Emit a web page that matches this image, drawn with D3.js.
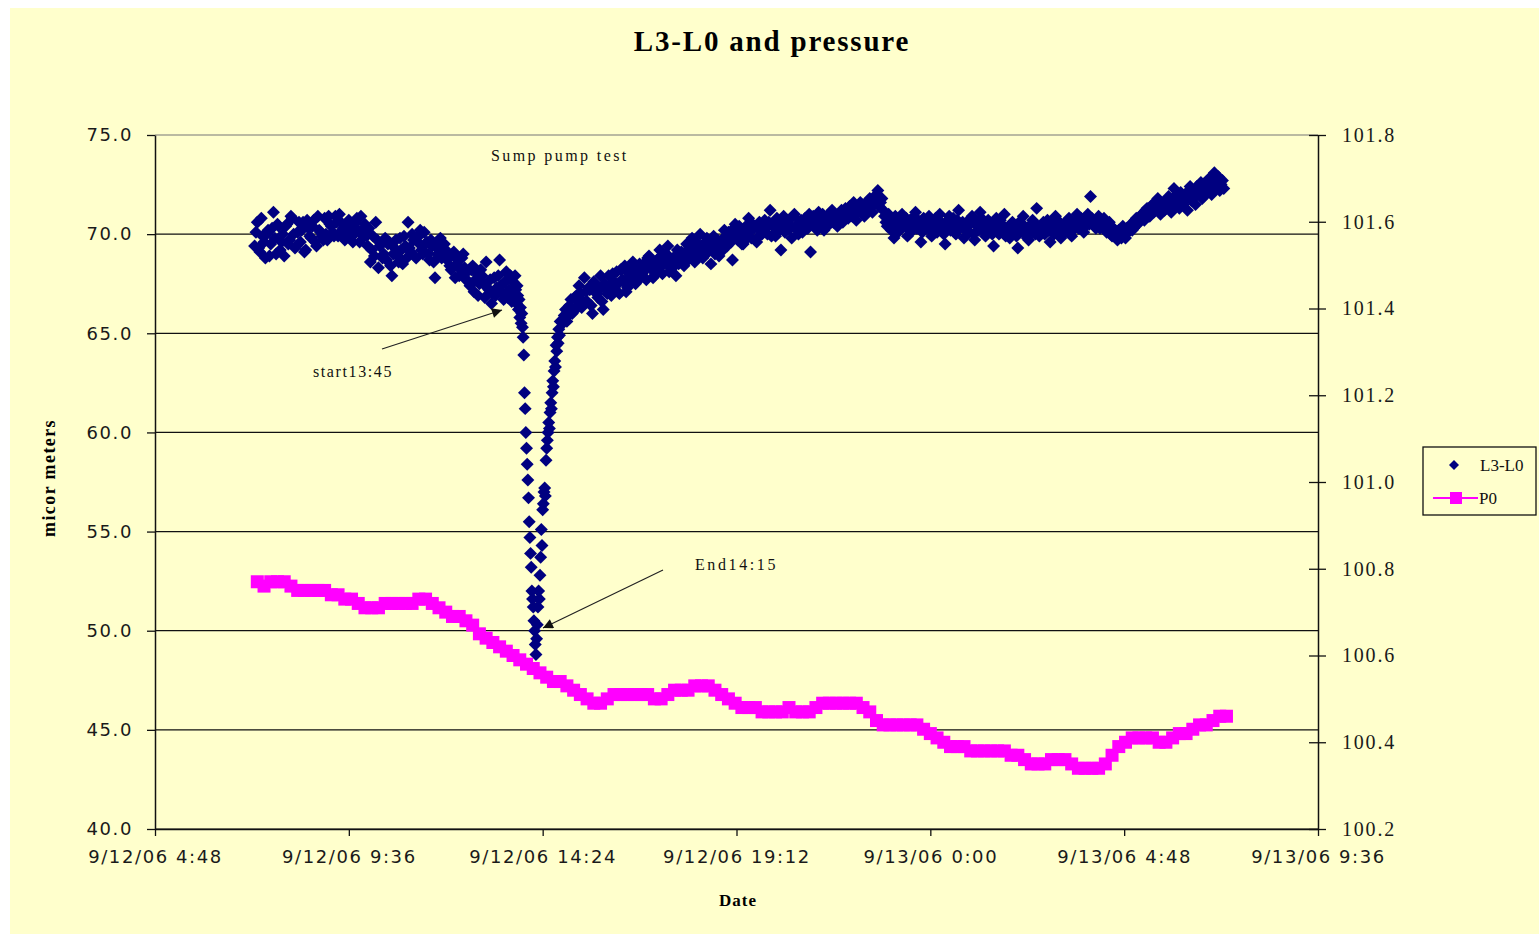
<!DOCTYPE html>
<html>
<head>
<meta charset="utf-8">
<script src="https://cdn.jsdelivr.net/npm/d3@7"></script>
<style>
  body { margin: 0; background: #fff; }
  svg { display: block; }
</style>
</head>
<body>
<svg id="chart"></svg>
<script>
const W = 1539, H = 934

// L3-L0 (micro meters), 4 minute samples before the pump test (even + odd runs)
const l3BeforeStart = '9/12/06 7:16'
const l3BeforeStep = 4
const l3Before = [
  69.4, 70.6, 69.1, 69.9, 68.8, 70.2, 69.5, 71.1, 69.0, 70.4, 69.6,
  68.9, 70.5, 69.7, 70.8, 69.3, 70.1, 69.6, 70.6, 69.2, 70.3, 69.8, 70.7, 69.4, 70.2, 69.9,
  70.8, 69.7, 70.5, 70.1, 70.9, 69.9, 70.6, 70.3, 69.8, 70.7, 70.4, 70.0, 70.8, 69.6, 70.2,
  70.5, 69.4, 68.6, 69.9, 70.6, 68.3, 69.5, 69.0,
  68.7, 69.6, 67.9, 69.3, 68.9, 69.8, 68.5, 69.4,
  70.6, 69.1, 69.7, 68.8, 69.9, 69.2, 70.1,
  69.6, 68.7, 69.4, 67.8, 69.0, 69.8, 68.9, 69.2,
  68.9, 68.2, 69.1, 68.5, 67.9, 68.8, 68.3,
  68.1, 67.4, 68.4, 67.7, 66.9, 68.2, 67.5, 68.6,
  67.2, 66.5, 67.8, 67.3, 68.7, 67.0, 67.6, 66.8, 67.9
]
const l3BeforeBStart = '9/12/06 7:18'
const l3BeforeB = [
  70.1, 69.3, 70.8, 69.6, 70.0, 68.9, 70.3, 69.8, 70.5, 69.2, 70.0,
  70.4, 69.5, 70.9, 70.0, 69.4, 70.6, 70.2, 69.1, 70.7, 69.9, 70.4, 69.6, 70.9, 70.1, 69.7,
  70.0, 70.9, 70.4, 69.9, 70.6, 71.0, 70.2, 69.7, 70.5, 70.1, 69.6, 70.6, 70.2, 70.9, 69.9,
  69.9, 70.3, 69.2, 68.9, 69.7, 69.4, 68.8, 69.8,
  69.5, 68.4, 69.0, 69.7, 68.6, 69.2, 69.9, 68.8,
  69.3, 70.0, 68.9, 69.6, 70.2, 69.0, 69.5,
  69.0, 69.7, 68.6, 69.5, 69.2, 68.8, 69.5, 68.7,
  68.4, 69.0, 67.8, 68.7, 68.2, 69.0, 67.7,
  67.6, 68.2, 67.1, 68.0, 67.5, 67.9, 66.8, 67.3,
  67.7, 67.0, 66.9, 67.9, 67.4, 66.7, 68.1, 67.2, 66.6
]

// 1 minute samples across the pump test
const l3DipStart = '9/12/06 13:40'
const l3DipStep = 1
const l3Dip = [
  67.6, 67.1, 66.8, 67.9, 67.2, 66.5, 67.4, 66.9, 66.2, 66.7, 65.8,
  66.3, 65.5, 66.0, 65.3,
  64.8, 63.9, 62.0, 61.2, 60.0, 59.2, 58.4, 57.6, 56.7, 55.5,
  54.7, 53.9, 53.2, 52.0, 51.6, 51.2, 50.5, 50.0, 49.3, 48.8,
  49.6,
  50.3, 51.2, 52.0, 51.6, 52.8, 53.7, 55.1, 54.3, 56.1, 56.4,
  57.0, 57.2, 56.8, 58.6, 59.2, 59.6, 60.0, 60.5, 60.2, 61.0,
  61.5, 61.2, 62.0, 62.6, 62.3, 63.1, 63.6, 63.3, 64.4, 64.1,
  64.8, 64.5, 65.2, 64.9, 65.6
]

// 4 minute samples after the test until next morning (even + odd runs)
const l3AfterStart = '9/12/06 14:54'
const l3AfterStep = 4
const l3After = [
  65.5, 66.2, 65.9, 66.7, 66.1, 66.9, 67.4, 66.3, 67.8, 66.6, 67.2, 66.0, 67.5, 66.8, 67.9,
  66.2, 67.3, 67.9, 66.9, 67.6, 68.1, 67.0, 67.7, 68.4, 67.3, 67.9, 68.6, 67.5, 68.2, 67.8,
  68.5, 67.7, 68.9, 68.2, 67.9, 68.7, 69.2, 68.0, 68.6, 69.4, 68.3, 68.8, 67.9, 68.5, 69.1,
  68.4, 69.5, 68.9, 69.8, 68.6, 69.2, 70.0, 68.8, 69.6, 69.1, 68.5, 69.9, 69.3, 68.9, 69.7,
  70.2, 69.4, 69.9, 68.7, 70.5, 69.7, 70.1, 69.5, 70.4, 70.8, 69.8, 70.3, 69.6, 70.6, 70.0,
  70.7, 70.0, 71.2, 70.4, 69.9, 70.6, 69.2, 70.9, 70.3, 70.5, 69.8, 71.0, 70.2, 70.6, 70.1,
  70.8, 70.3, 69.1, 70.9, 70.4, 71.1, 70.6, 70.2, 70.9, 70.5, 71.2, 70.7, 70.4, 71.0, 70.6,
  71.3, 70.8, 71.1, 71.6, 70.7, 71.2, 71.5, 70.9, 71.4, 71.8, 71.1, 71.9, 72.2, 71.6, 71.2,
  70.6, 71.0, 70.2, 69.8, 70.6, 70.3, 71.0, 70.5, 69.9, 70.7, 70.2, 71.1, 70.4, 69.6, 70.8,
  70.3, 70.9, 69.9, 70.6, 70.1, 71.0, 70.4, 69.5, 70.7, 70.2, 70.8, 70.0, 71.2, 70.5, 69.8,
  70.6, 70.1, 70.9, 69.7, 70.4, 71.1, 70.2, 69.9, 70.7, 70.3, 69.4, 70.8, 70.0, 70.5, 71.0,
  70.3, 69.8, 70.6, 70.1, 69.3, 70.4, 70.9, 70.0, 69.7, 70.5, 70.2, 71.3, 69.9, 70.4, 70.0,
  70.7, 69.6, 70.3, 70.9, 70.1, 69.8, 70.5, 70.2, 70.8, 69.9, 70.6, 71.0, 70.3, 70.7, 70.4,
  71.0, 71.9, 70.6, 70.3, 70.9, 70.5, 70.8, 70.1, 70.6, 69.9, 70.2, 69.7, 70.0, 70.4, 69.8,
  70.1, 70.5, 70.3, 70.8, 70.6, 71.0, 70.7, 71.3, 70.9, 71.5, 71.2, 71.8, 71.0, 71.6, 71.3,
  71.9, 71.1, 72.3, 71.6, 71.3, 72.0, 71.7, 71.2, 72.4, 71.8, 71.5, 72.1, 72.6, 71.9, 72.3,
  72.8, 72.0, 73.1, 72.5, 72.2, 72.7
]
const l3AfterBStart = '9/12/06 14:56'
const l3AfterB = [
  65.9, 65.6, 66.4, 66.0, 66.8, 66.4, 67.0, 66.6, 67.1, 67.3, 66.4, 67.6, 67.0, 67.2, 66.6,
  67.5, 67.0, 67.4, 68.0, 67.2, 67.5, 68.2, 67.6, 67.1, 68.0, 67.7, 68.3, 67.9, 68.5, 68.0,
  68.2, 68.8, 68.4, 67.8, 68.6, 68.3, 68.9, 68.5, 69.0, 68.1, 68.7, 68.4, 69.2, 68.6, 68.9,
  69.1, 68.7, 69.3, 69.0, 69.6, 68.9, 69.4, 69.1, 69.8, 69.3, 69.6, 69.0, 69.7, 69.5, 69.2,
  69.8, 70.1, 69.6, 70.3, 69.9, 70.4, 69.5, 70.0, 69.8, 70.2, 70.5, 69.7, 70.3, 70.0, 70.4,
  70.3, 70.6, 69.9, 70.4, 70.8, 70.2, 70.5, 70.1, 70.7, 70.3, 70.9, 70.4, 70.0, 70.7, 70.5,
  70.6, 71.0, 70.5, 70.8, 70.2, 70.7, 71.0, 70.4, 70.8, 71.1, 70.6, 70.9, 70.5, 71.2, 70.8,
  71.0, 71.4, 70.9, 71.3, 71.1, 71.6, 71.2, 71.0, 71.7, 71.4, 71.5, 72.0, 71.4, 71.8, 70.9,
  70.4, 70.8, 70.5, 70.9, 70.1, 70.6, 70.4, 70.8, 70.2, 70.5, 70.9, 70.3, 70.6, 70.1, 70.5,
  70.6, 70.2, 70.5, 70.8, 70.3, 70.6, 70.0, 70.5, 70.9, 70.4, 70.1, 70.7, 70.3, 70.6, 70.2,
  70.4, 70.7, 70.0, 70.5, 70.2, 70.8, 70.4, 70.1, 70.6, 70.0, 70.5, 70.2, 70.7, 70.3, 69.9,
  70.1, 70.5, 70.3, 69.9, 70.6, 70.2, 70.4, 69.8, 70.3, 70.7, 70.0, 70.4, 70.1, 70.6, 70.3,
  70.2, 70.6, 70.0, 70.4, 70.6, 70.3, 70.1, 70.7, 70.4, 70.2, 70.5, 70.3, 70.8, 70.1, 70.6,
  70.5, 70.8, 70.4, 70.7, 70.3, 70.6, 70.2, 70.5, 70.0, 70.3, 69.9, 70.2, 69.8, 70.1, 70.3,
  70.4, 70.2, 70.7, 70.5, 70.9, 70.8, 71.2, 70.9, 71.4, 71.1, 71.3, 71.6, 71.4, 71.2, 71.7,
  71.5, 71.8, 71.4, 71.9, 72.1, 71.5, 71.9, 72.2, 71.7, 72.0, 72.4, 72.2, 71.8, 72.5, 72.1,
  72.4, 72.6, 72.3, 72.9, 72.5, 72.3
]

// P0 pressure, 10 minute samples
const p0Start = '9/12/06 7:20'
const p0Step = 10
const p0 = [
  100.77, 100.76, 100.77, 100.77, 100.77, 100.76, 100.75, 100.75, 100.75, 100.75,
  100.75, 100.74, 100.74, 100.73, 100.73, 100.72, 100.71, 100.71, 100.71, 100.72,
  100.72, 100.72, 100.72, 100.72, 100.73, 100.73, 100.72, 100.71, 100.70, 100.69,
  100.69, 100.68, 100.67, 100.65, 100.64, 100.63, 100.62, 100.61, 100.60, 100.59,
  100.58, 100.57, 100.56, 100.55, 100.54, 100.54, 100.53, 100.52, 100.51, 100.50,
  100.49, 100.49, 100.50, 100.51, 100.51, 100.51, 100.51, 100.51, 100.51, 100.50,
  100.50, 100.51, 100.52, 100.52, 100.52, 100.53, 100.53, 100.53, 100.52, 100.51,
  100.50, 100.49, 100.48, 100.48, 100.48, 100.47, 100.47, 100.47, 100.47, 100.48,
  100.47, 100.47, 100.47, 100.48, 100.49, 100.49, 100.49, 100.49, 100.49, 100.49,
  100.48, 100.47, 100.45, 100.44, 100.44, 100.44, 100.44, 100.44, 100.44, 100.43,
  100.42, 100.41, 100.40, 100.39, 100.39, 100.39, 100.38, 100.38, 100.38, 100.38,
  100.38, 100.38, 100.37, 100.37, 100.36, 100.35, 100.35, 100.35, 100.36, 100.36,
  100.36, 100.35, 100.34, 100.34, 100.34, 100.34, 100.35, 100.37, 100.39, 100.40,
  100.41, 100.41, 100.41, 100.41, 100.40, 100.40, 100.41, 100.42, 100.42, 100.43,
  100.44, 100.44, 100.45, 100.46, 100.46
]

const leftTicks = [40, 45, 50, 55, 60, 65, 70, 75]
const rightTicks = [100.2, 100.4, 100.6, 100.8, 101.0, 101.2, 101.4, 101.6, 101.8]
const xTickLabels = ['9/12/06 4:48', '9/12/06 9:36', '9/12/06 14:24', '9/12/06 19:12',
  '9/13/06 0:00', '9/13/06 4:48', '9/13/06 9:36']

const parse = d3.timeParse('%m/%d/%y %H:%M')
const fmt = d3.timeFormat('%-m/%-d/%y %-H:%M')

const series = (start, step, vals) => {
  const t0 = parse(start)
  return vals.map((v, i) => ({ t: d3.timeMinute.offset(t0, i * step), v }))
}
const l3Data = [
  ...series(l3BeforeStart, l3BeforeStep, l3Before),
  ...series(l3BeforeBStart, l3BeforeStep, l3BeforeB),
  ...series(l3DipStart, l3DipStep, l3Dip),
  ...series(l3AfterStart, l3AfterStep, l3After),
  ...series(l3AfterBStart, l3AfterStep, l3AfterB)
]
const p0Data = series(p0Start, p0Step, p0)

const margin = { top: 135, right: 221, bottom: 105, left: 155 }
const plotW = W - margin.left - margin.right
const plotH = H - margin.top - margin.bottom

const svg = d3.select('#chart').attr('width', W).attr('height', H)
  .style('font-family', '"Liberation Serif", serif')

svg.append('rect').attr('width', W).attr('height', H).attr('fill', '#fff')
svg.append('rect').attr('x', 10).attr('y', 8).attr('width', W - 10).attr('height', H - 8)
  .attr('fill', '#FFFFCC')

const xTicks = xTickLabels.map(parse)
const x = d3.scaleTime()
  .domain([xTicks[0], xTicks[xTicks.length - 1]])
  .range([margin.left, margin.left + plotW])
const yL = d3.scaleLinear().domain([40, 75]).range([margin.top + plotH, margin.top])
const yR = d3.scaleLinear().domain([100.2, 101.8]).range([margin.top + plotH, margin.top])

// gridlines
svg.append('g')
  .selectAll('line')
  .data(leftTicks)
  .join('line')
  .attr('x1', margin.left)
  .attr('x2', margin.left + plotW)
  .attr('y1', d => yL(d))
  .attr('y2', d => yL(d))
  .attr('stroke', d => d === 75 ? '#777' : '#111')
  .attr('stroke-width', 1.2)

const styleAxis = (g, family, spacing) => {
  g.select('.domain').attr('stroke', '#111').attr('stroke-width', 1.5)
  g.selectAll('.tick line').attr('stroke', '#111').attr('stroke-width', 1.3)
  g.selectAll('text')
    .attr('fill', '#1a1a1a')
    .style('font-family', family)
    .style('font-size', family.includes('Serif') ? '20px' : '18px')
    .style('letter-spacing', spacing)
}

svg.append('g')
  .attr('transform', `translate(${margin.left},0)`)
  .call(d3.axisLeft(yL).tickValues(leftTicks).tickFormat(d3.format('.1f'))
    .tickSizeInner(8).tickSizeOuter(0).tickPadding(14))
  .call(g => styleAxis(g, '"DejaVu Sans", sans-serif', '1.6px'))

svg.append('g')
  .attr('transform', `translate(${margin.left + plotW},0)`)
  .call(d3.axisRight(yR).tickValues(rightTicks).tickFormat(d3.format('.1f'))
    .tickSizeInner(8).tickSizeOuter(0).tickPadding(16))
  .call(g => g.selectAll('.tick line').attr('x1', -9))
  .call(g => styleAxis(g, '"Liberation Serif", serif', '1.8px'))

svg.append('g')
  .attr('transform', `translate(0,${margin.top + plotH})`)
  .call(d3.axisBottom(x).tickValues(xTicks).tickFormat(fmt)
    .tickSizeInner(7).tickSizeOuter(0).tickPadding(14))
  .call(g => styleAxis(g, '"DejaVu Sans", sans-serif', '1.6px'))

// L3-L0 diamonds
const diamond = d3.symbol(d3.symbolSquare, 84)
svg.append('g')
  .selectAll('path')
  .data(l3Data)
  .join('path')
  .attr('d', diamond)
  .attr('transform', d => `translate(${x(d.t)},${yL(d.v)}) rotate(45)`)
  .attr('fill', '#000080')

// P0 line + squares
svg.append('path')
  .datum(p0Data)
  .attr('fill', 'none')
  .attr('stroke', '#FF00FF')
  .attr('stroke-width', 2)
  .attr('d', d3.line().x(d => x(d.t)).y(d => yR(d.v)))

svg.append('g')
  .selectAll('rect')
  .data(p0Data)
  .join('rect')
  .attr('x', d => x(d.t) - 6.5)
  .attr('y', d => yR(d.v) - 6.5)
  .attr('width', 13)
  .attr('height', 13)
  .attr('fill', '#FF00FF')

// titles
svg.append('text')
  .attr('x', 772).attr('y', 51)
  .attr('text-anchor', 'middle')
  .style('font-size', '29px').style('font-weight', 'bold').style('letter-spacing', '1.8px')
  .text('L3-L0 and pressure')

svg.append('text')
  .attr('transform', 'translate(55,478) rotate(-90)')
  .attr('text-anchor', 'middle')
  .style('font-size', '18px').style('font-weight', 'bold').style('letter-spacing', '1.4px')
  .text('micor meters')

svg.append('text')
  .attr('x', 738).attr('y', 906)
  .attr('text-anchor', 'middle')
  .style('font-size', '17px').style('font-weight', 'bold').style('letter-spacing', '1px')
  .text('Date')

// annotations
svg.append('defs').append('marker')
  .attr('id', 'arrow')
  .attr('viewBox', '0 0 10 10')
  .attr('refX', 10).attr('refY', 5)
  .attr('markerWidth', 14).attr('markerHeight', 10)
  .attr('markerUnits', 'userSpaceOnUse')
  .attr('orient', 'auto')
  .append('path').attr('d', 'M0,0L10,5L0,10Z').attr('fill', '#111')

const notes = [
  { text: 'Sump pump test', x: 491, y: 161, spacing: '2.4px' },
  { text: 'start13:45', x: 313, y: 377, spacing: '1.6px' },
  { text: 'End14:15', x: 695, y: 570, spacing: '2.6px' }
]
svg.append('g')
  .selectAll('text')
  .data(notes)
  .join('text')
  .attr('x', d => d.x).attr('y', d => d.y)
  .style('font-size', '16px')
  .style('letter-spacing', d => d.spacing)
  .attr('fill', '#111')
  .text(d => d.text)

const arrows = [[382, 349, 502, 310], [663, 570, 543, 628]]
svg.append('g')
  .selectAll('line')
  .data(arrows)
  .join('line')
  .attr('x1', d => d[0]).attr('y1', d => d[1])
  .attr('x2', d => d[2]).attr('y2', d => d[3])
  .attr('stroke', '#222').attr('stroke-width', 1.2)
  .attr('marker-end', 'url(#arrow)')

// legend
const legend = svg.append('g').attr('transform', 'translate(1423,447)')
legend.append('rect')
  .attr('width', 113).attr('height', 68)
  .attr('fill', '#FFFFCC').attr('stroke', '#111').attr('stroke-width', 1.3)
legend.append('path')
  .attr('d', d3.symbol(d3.symbolSquare, 50))
  .attr('transform', 'translate(31,18) rotate(45)')
  .attr('fill', '#000080')
legend.append('line')
  .attr('x1', 10).attr('x2', 55).attr('y1', 51).attr('y2', 51)
  .attr('stroke', '#FF00FF').attr('stroke-width', 2)
legend.append('rect')
  .attr('x', 27).attr('y', 45).attr('width', 12).attr('height', 12)
  .attr('fill', '#FF00FF')
legend.selectAll('text.lbl')
  .data(['L3-L0', 'P0'])
  .join('text')
  .attr('x', (d, i) => i ? 56 : 57)
  .attr('y', (d, i) => i ? 57 : 24)
  .style('font-size', '17px')
  .attr('fill', '#111')
  .text(d => d)
</script>
</body>
</html>
